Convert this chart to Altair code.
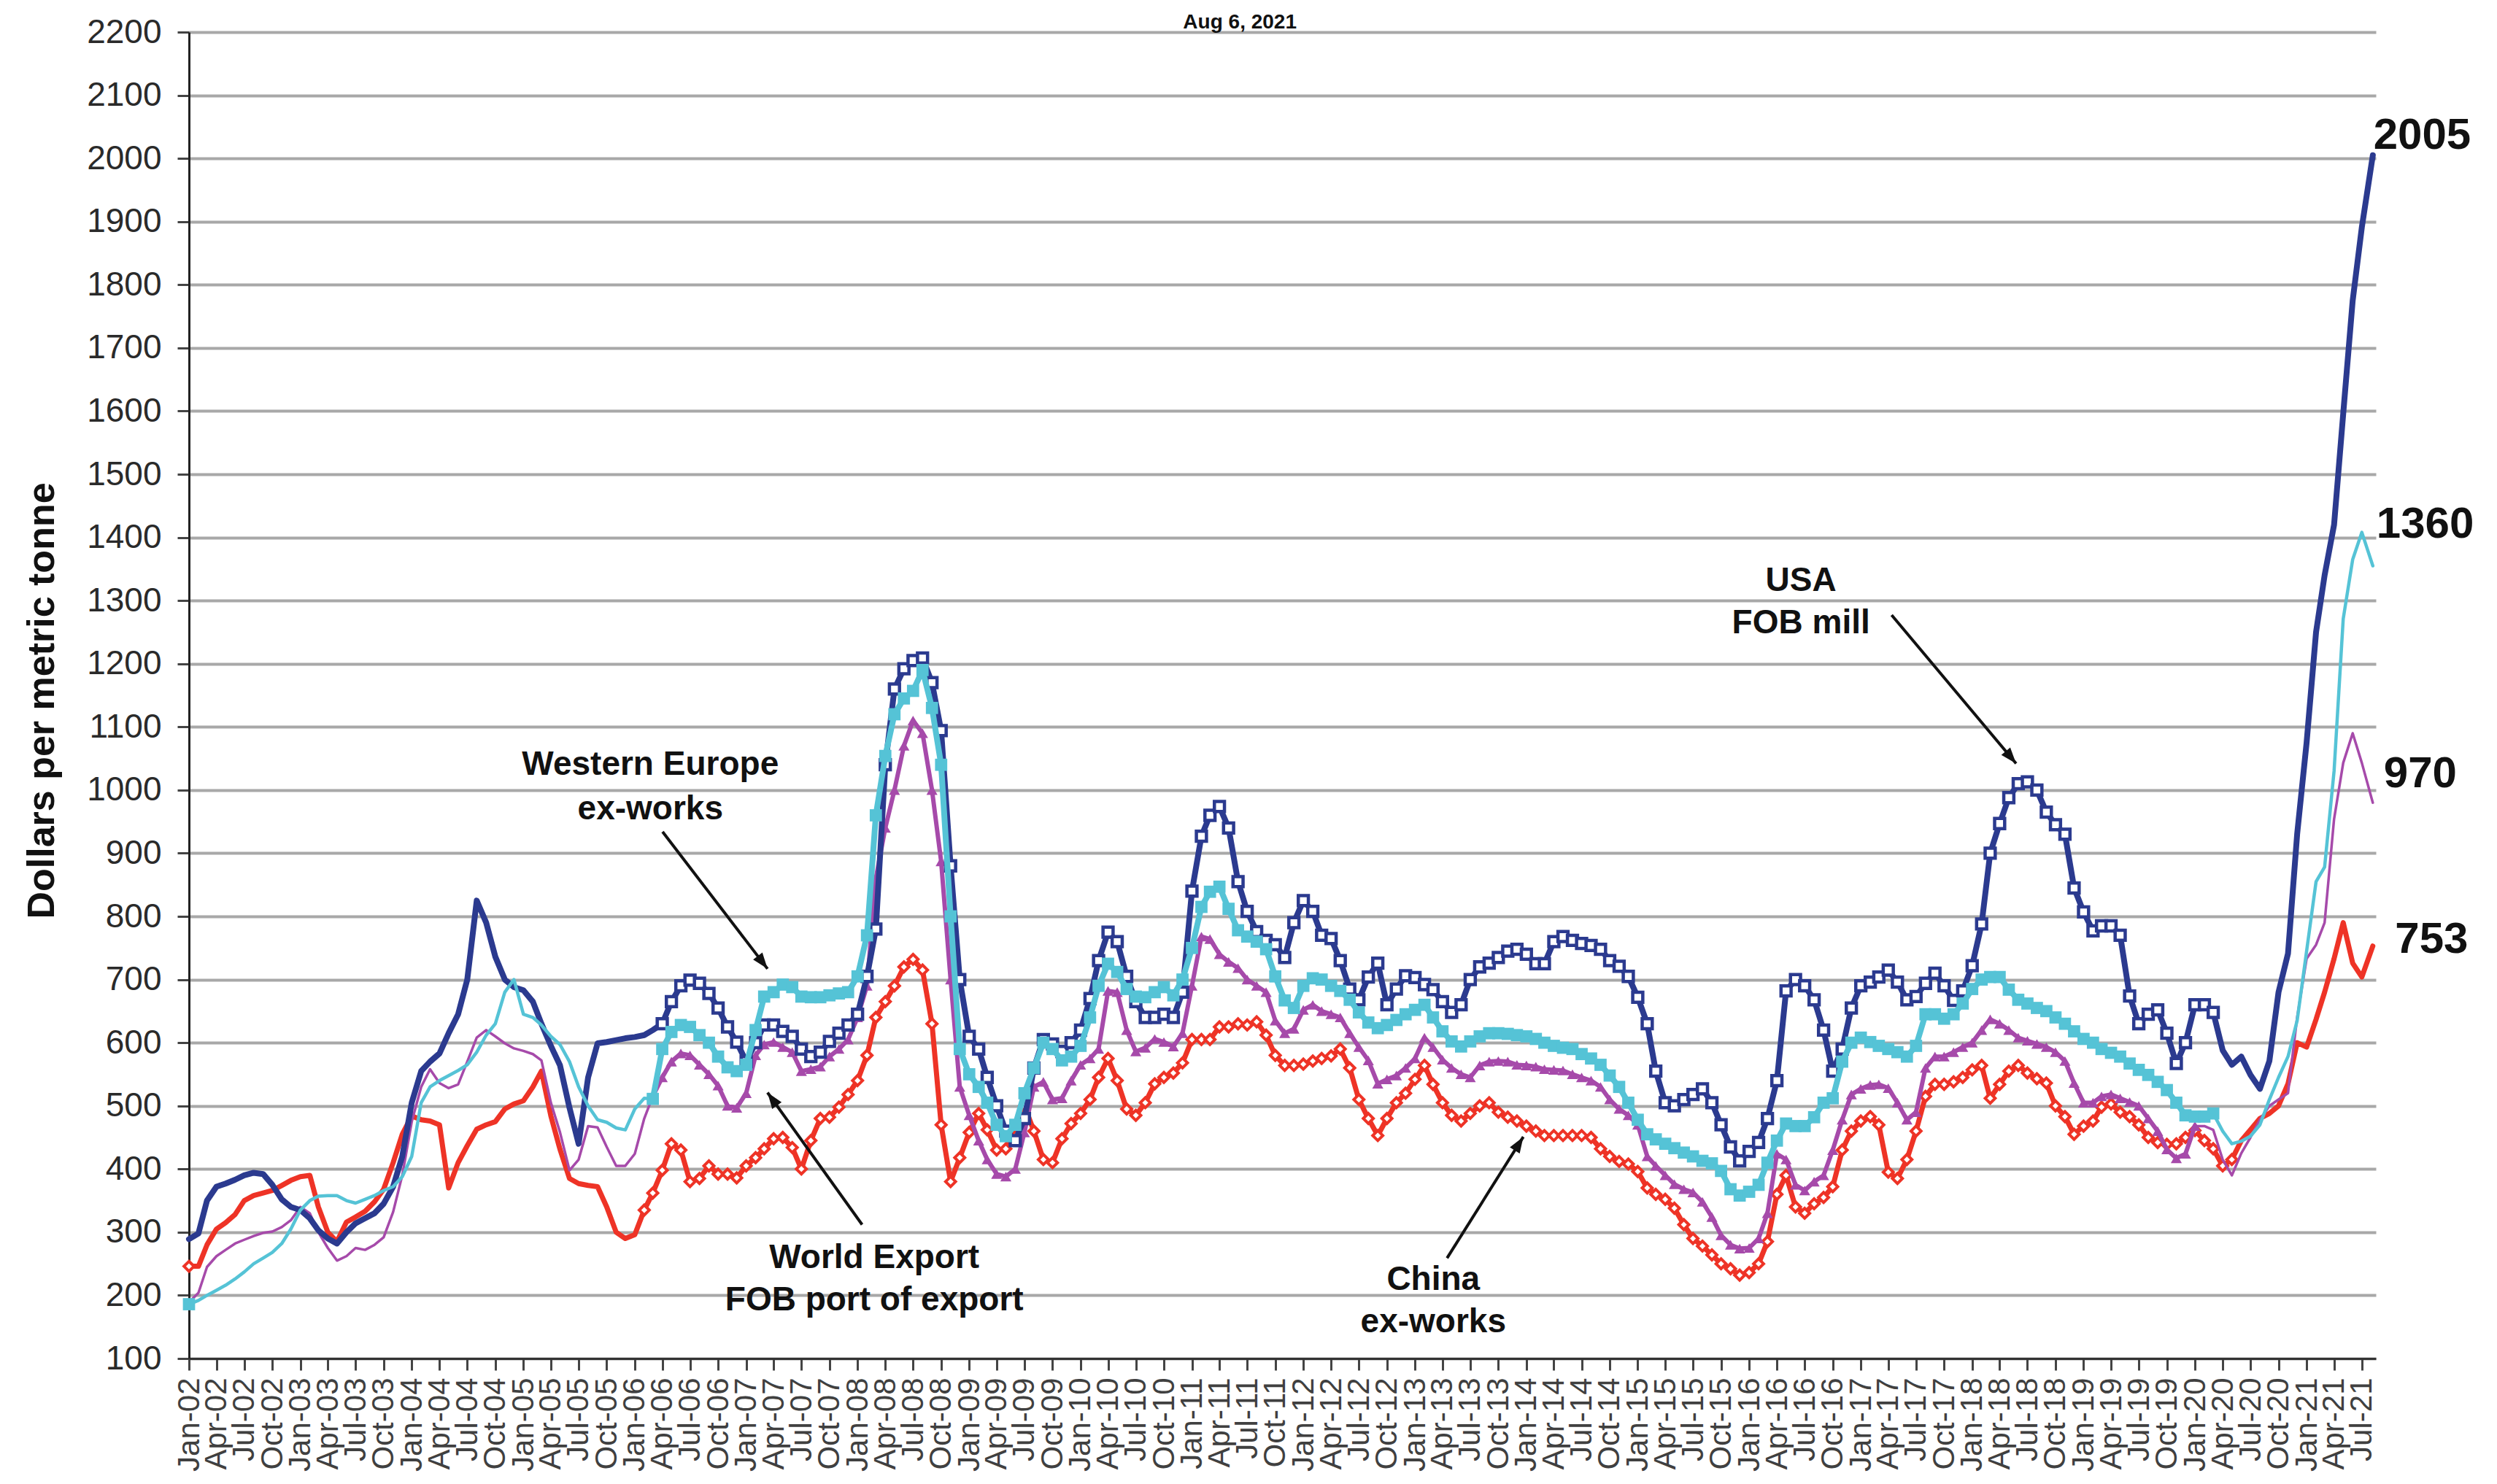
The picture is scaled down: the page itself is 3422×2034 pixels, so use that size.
import math
import altair as alt
import pandas as pd

# ---------------- data ----------------
dates = pd.date_range("2002-01-01", "2021-07-01", freq="MS").strftime("%Y-%m-%d").tolist() + ["2021-08-06"]

usa_fob_mill = [
    289, 298, 350, 372, 377, 383, 390, 394, 392, 375, 352, 340,
    335, 322, 303, 290, 282, 300, 314, 322, 330, 345, 372, 420,
    505, 555, 570, 583, 615, 645, 700, 825, 790, 736, 700, 688,
    683, 665, 630, 595, 564, 497, 440, 545, 599, 601, 604, 607,
    609, 612, 620, 630, 665, 690, 699, 694, 678, 655, 625, 601,
    570, 600, 628, 628, 618, 610, 590, 578, 585, 602, 615, 628,
    645, 705, 780, 1040, 1160, 1192, 1205, 1209, 1170, 1094, 880, 700,
    610, 590, 545, 500, 460, 445, 480, 560, 605, 598, 586, 600,
    620, 670, 730, 775, 760, 705, 665, 640, 640, 645, 640, 680,
    840, 927, 960, 974, 940, 855, 808, 776, 762, 755, 735, 790,
    825, 808, 770, 765, 730, 685, 668, 704, 726, 660, 685, 706,
    703, 692, 684, 665, 648, 660, 700, 720, 726, 735, 745, 748,
    740, 725, 725, 760, 768, 762, 757, 754, 748, 730, 721, 705,
    672, 630, 555, 505, 500, 510, 518, 527, 505, 470, 435, 413,
    428, 442, 480, 540, 682, 700, 690, 668, 620, 555, 590, 655,
    690, 696, 704, 715, 696, 668, 673, 694, 710, 690, 667, 682,
    722, 788, 900, 947, 988, 1010, 1013, 1000, 965, 945, 930, 845,
    807, 777, 785, 785, 770, 674, 630, 645, 652, 615, 567, 600,
    660, 660, 648, 588, 565, 578, 549, 527, 571, 680, 741, 930,
    1075, 1250, 1340, 1420, 1596, 1775, 1891, 2005,
]

western_europe_ex_works = [
    186, 192, 200, 208, 216, 226, 237, 250, 259, 268, 282, 305,
    335, 350, 357, 358, 358, 350, 346, 352, 358, 366, 372, 388,
    420, 505, 530, 540, 548, 556, 565, 585, 612, 630, 680, 700,
    645, 640, 628, 610, 597, 570, 530, 500, 478, 474, 465, 462,
    495, 512, 511, 590, 617, 628, 625, 612, 600, 578, 561, 555,
    565, 620, 673, 680, 692, 688, 673, 672, 672, 675, 678, 680,
    705, 770, 960, 1054, 1120, 1145, 1157, 1190, 1130, 1040, 800, 590,
    550, 530, 505, 470, 452, 470, 520, 560, 600, 590, 572, 578,
    595, 640, 690, 725, 712, 685, 673, 672, 680, 688, 675, 700,
    750, 815, 839, 847, 812, 778, 768, 760, 748, 705, 667, 655,
    690, 702, 700, 690, 682, 668, 648, 632, 623, 628, 636, 645,
    652, 660, 640, 618, 602, 594, 602, 610, 615, 615, 614, 612,
    610, 606, 600, 595, 592, 590, 582, 575, 565, 548, 530, 505,
    478, 455, 447, 440, 433, 426, 420, 413, 409, 397, 368, 358,
    364, 375, 410, 445, 472, 468, 468, 482, 505, 512, 570, 600,
    608, 601, 595, 590, 585, 578, 595, 645, 645, 638, 645, 662,
    685, 700, 704, 704, 684, 668, 662, 655, 650, 640, 630, 618,
    606, 600, 590, 584, 578, 567, 557, 549, 538, 525, 505, 485,
    483, 483, 488, 460, 440, 444, 452, 470, 510, 545, 578, 635,
    745, 855, 878, 1030, 1271, 1365, 1408, 1355,
]

world_export_fob = [
    189, 204, 245, 262, 272, 282, 288, 294, 299, 301, 308, 319,
    340, 330, 300, 275, 255, 262, 275, 272, 280, 292, 332, 390,
    475, 530, 558, 536, 528, 534, 570, 608, 620, 610, 599, 591,
    587, 582, 572, 505, 458, 398, 415, 468, 466, 435, 405, 405,
    424, 480, 515, 545, 570, 583, 580, 565, 550, 532, 500, 497,
    520, 580, 597, 601, 593, 585, 555, 558, 562, 578, 590, 605,
    640, 690, 860, 940, 1000, 1070, 1110, 1090, 1000, 887, 700, 530,
    485, 445, 415, 392, 388, 400, 458, 530, 538, 510, 512, 540,
    565, 575, 590, 682, 680, 620, 586, 592, 606, 601, 594, 615,
    690, 768, 764, 740, 728, 718, 700, 690, 680, 635, 615, 622,
    652, 660, 650, 645, 640, 615, 593, 572, 535, 542, 548, 560,
    575, 608, 593, 573, 560, 550, 545, 564, 570, 571, 570, 565,
    564, 562, 558, 557, 556, 550, 545, 540, 530, 510, 495, 485,
    470, 420, 405, 390, 376, 368, 363, 348, 324, 295, 280, 274,
    275, 290, 330, 424, 415, 375, 366, 380, 390, 430, 478, 518,
    527, 533, 534, 528, 505, 478, 490, 560, 578, 578, 585, 593,
    600, 620, 637, 630, 620, 608, 603, 598, 593, 585, 571, 536,
    505, 505, 515, 518, 512, 506, 500, 480, 460, 431, 417, 424,
    468, 468, 462, 415, 390, 425, 450, 478, 500, 510, 520, 640,
    733, 755, 790, 954, 1043, 1090, 1043, 980,
]

china_ex_works = [
    246, 246, 280, 305, 315, 328, 350, 358, 362, 366, 374, 382,
    388, 390, 340, 300, 285, 316, 324, 333, 348, 368, 410, 455,
    484, 478, 476, 470, 370, 410, 437, 463, 470, 475, 495, 503,
    508, 530, 555, 484, 431, 385, 377, 374, 372, 340, 300, 290,
    296, 335, 362, 398, 440, 430, 380, 385, 405, 392, 392, 386,
    405, 418, 432, 448, 450, 434, 400, 445, 480, 482, 498, 518,
    540, 580, 640, 665, 690, 720, 732, 715, 630, 470, 380, 418,
    458, 488, 462, 430, 432, 468, 500, 460, 415, 410, 448, 472,
    488, 510, 545, 575, 540, 495, 485, 505, 535, 545, 552, 568,
    605, 605, 605, 625, 625, 630, 628, 633, 612, 580, 564, 564,
    566, 571, 575, 579, 590, 560, 510, 480, 453, 480, 505, 520,
    542, 564, 534, 505, 485, 476, 488, 500, 505, 490, 482, 476,
    468, 460, 453, 453, 453, 453, 453, 450, 432, 420, 412, 408,
    396, 370, 360, 352, 338, 312, 290, 278, 264, 250, 242, 232,
    236, 250, 285, 360, 390, 340, 330, 345, 355, 372, 430, 460,
    476, 483, 470, 395, 385, 415, 460, 515, 534, 534, 538, 545,
    557, 564, 512, 534, 555, 564, 552, 543, 536, 500, 483, 455,
    468, 476, 498, 503, 490, 483, 470, 450, 442, 439, 440, 450,
    461, 445, 432, 405, 415, 445, 462, 480, 488, 500, 535, 600,
    593, 637, 680, 733, 790, 726, 704, 753,
]

for s in (usa_fob_mill, western_europe_ex_works, world_export_fob, china_ex_works):
    assert len(s) == len(dates), len(s)

y_ticks = list(range(100, 2201, 100))

title_text = ["Aug 6, 2021"]
title_date = ["2011-06-07"]
title_value = [2206]

note_text = ["Western Europe", "ex-works", "World Export", "FOB port of export",
             "China", "ex-works", "USA", "FOB mill"]
note_date = ["2006-02-21", "2006-02-21", "2008-02-25", "2008-02-25",
             "2013-03-02", "2013-03-02", "2016-06-19", "2016-06-19"]
note_value = [1024, 954, 243, 176, 209, 142, 1315, 1248]

arrow_from_date = ["2006-04-02", "2008-01-16", "2013-04-16", "2017-04-12"]
arrow_from_value = [934, 312, 259, 1277]
arrow_to_date = ["2007-03-12", "2007-03-12", "2013-12-22", "2018-05-25"]
arrow_to_value = [717, 521, 451, 1042]

end_text = ["2005", "1360", "970", "753"]
end_date = ["2021-08-08", "2021-08-18", "2021-09-11", "2021-10-18"]
end_value = [2015, 1399, 1004, 742]

# ---------------- styling ----------------
NAVY = "#2b3a8f"
CYAN = "#55c3d6"
PURPLE = "#a64aaa"
RED = "#ee3326"
FONT = "Liberation Sans"

W, H = 2997, 1818
X_START, X_END = "2002-01-01", "2021-08-16"


def ms(d):
    return int(pd.Timestamp(d, tz="UTC").value // 10**6)


tick_values = [ms(d) for d in pd.date_range("2002-01-01", "2021-07-01", freq="QS")]

x_axis = alt.Axis(
    values=tick_values, labelExpr="utcFormat(datum.value, '%b-%y')",
    labelAngle=270, labelFontSize=42, labelFont=FONT, labelColor="#404040",
    labelOverlap=False, labelBound=False, labelFlush=False, labelPadding=10,
    tickSize=16, tickWidth=3, tickColor="#444444",
    domainColor="#333333", domainWidth=3, grid=False, title=None,
)
y_axis = alt.Axis(
    values=y_ticks, format="d", labelFontSize=46, labelFont=FONT, labelColor="#2a2a2a",
    labelPadding=22, tickSize=16, tickWidth=3, tickColor="#444444",
    domainColor="#222222", domainWidth=3,
    grid=True, gridColor="#a8a8a8", gridWidth=4,
    title="Dollars per metric tonne", titleFont=FONT, titleFontSize=52,
    titleFontWeight="bold", titleColor="#111111", titleAngle=270,
    titleX=-202, titleY=916, titleAlign="center", titleBaseline="middle",
)

X = alt.X("date:T", scale=alt.Scale(type="utc", domain=[ms(X_START), ms(X_END)]), axis=x_axis)
Y = alt.Y("value:Q", scale=alt.Scale(domain=[100, 2200], nice=False, zero=False), axis=y_axis)


def frame(vals, a=0, b=None):
    df = pd.DataFrame({"date": dates, "value": vals})
    return df.iloc[a:b].reset_index(drop=True)


def line(vals, color, sw, a=0, b=None):
    return alt.Chart(frame(vals, a, b)).mark_line(
        color=color, strokeWidth=sw, strokeJoin="round", strokeCap="round"
    ).encode(x=X, y=Y)


def points(df, **kw):
    return alt.Chart(df).mark_point(opacity=1, **kw).encode(x=X, y=Y)


layers = []
# China ex-works (red)
layers.append(line(china_ex_works, RED, 7))
red_pts = pd.concat([frame(china_ex_works, 0, 1), frame(china_ex_works, 49, 221)])
layers.append(points(red_pts, shape="diamond", filled=True, fill="white", stroke=RED,
                     strokeWidth=4, size=190))
# World export (purple)
layers.append(line(world_export_fob, PURPLE, 3.5, 0, 51))
layers.append(line(world_export_fob, PURPLE, 6, 50, 217))
layers.append(line(world_export_fob, PURPLE, 3.5, 216, None))
layers.append(points(frame(world_export_fob, 50, 217), shape="triangle-up", filled=True,
                     color=PURPLE, size=230))
# USA (navy)
layers.append(line(usa_fob_mill, NAVY, 8))
layers.append(points(frame(usa_fob_mill, 51, 219), shape="square", filled=True, fill="white",
                     stroke=NAVY, strokeWidth=4.5, size=190))
# Western Europe (cyan)
layers.append(line(western_europe_ex_works, CYAN, 4.5, 0, 51))
layers.append(line(western_europe_ex_works, CYAN, 8, 50, 219))
layers.append(line(western_europe_ex_works, CYAN, 4.5, 218, None))
cyan_pts = pd.concat([frame(western_europe_ex_works, 0, 1), frame(western_europe_ex_works, 50, 219)])
layers.append(points(cyan_pts, shape="square", filled=True, color=CYAN, size=280))

# arrows
px_per_ms = W / (ms(X_END) - ms(X_START))
px_per_val = H / 2100.0
angles = []
for fd, fv, td, tv in zip(arrow_from_date, arrow_from_value, arrow_to_date, arrow_to_value):
    dx = (ms(td) - ms(fd)) * px_per_ms
    dy = -(tv - fv) * px_per_val
    angles.append(math.degrees(math.atan2(dx, -dy)) % 360)

arrows = pd.DataFrame({"date": arrow_from_date, "value": arrow_from_value,
                       "date2": arrow_to_date, "value2": arrow_to_value})
heads = pd.DataFrame({"date": arrow_to_date, "value": arrow_to_value, "angle": angles})
layers.append(alt.Chart(arrows).mark_rule(color="#111111", strokeWidth=4).encode(
    x=X, x2="date2:T", y=Y, y2="value2:Q"))
layers.append(alt.Chart(heads).mark_point(
    shape="M0,0 L-0.65,1.8 L0.65,1.8 Z", filled=True, color="#111111", opacity=1, size=600
).encode(x=X, y=Y, angle=alt.Angle("angle:Q", scale=None)))

notes = pd.DataFrame({"date": note_date, "value": note_value, "text": note_text})
layers.append(alt.Chart(notes).mark_text(
    font=FONT, fontSize=46, fontWeight="bold", color="#111111", align="center", baseline="alphabetic"
).encode(x=X, y=Y, text="text:N"))

ends = pd.DataFrame({"date": end_date, "value": end_value, "text": end_text})
layers.append(alt.Chart(ends).mark_text(
    font=FONT, fontSize=60, fontWeight="bold", color="#111111", align="left", baseline="alphabetic"
).encode(x=X, y=Y, text="text:N"))

title_df = pd.DataFrame({"date": title_date, "value": title_value, "text": title_text})
layers.append(alt.Chart(title_df).mark_text(
    font=FONT, fontSize=28, fontWeight="bold", color="#111111", align="center", baseline="alphabetic"
).encode(x=X, y=Y, text="text:N"))

chart = alt.layer(*layers).properties(
    width=W, height=H,
    autosize=alt.AutoSizeParams(type="none"),
    padding={"left": 251, "top": 36, "right": 158, "bottom": 164},
    background="white",
).configure_view(stroke=None)

chart.save("out.html", embed_options={"renderer": "svg", "actions": False})
